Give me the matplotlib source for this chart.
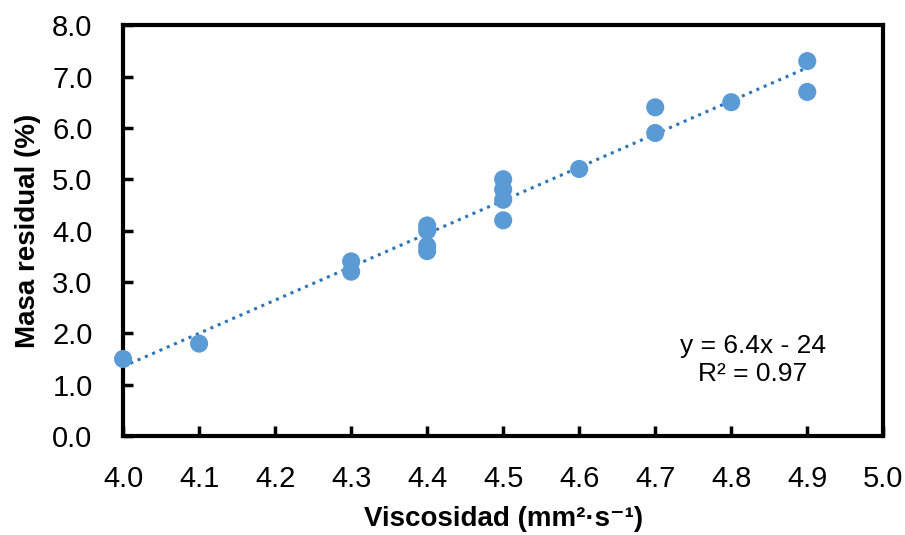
import numpy as np
import matplotlib.pyplot as plt

viscosidad = [4.0, 4.1, 4.3, 4.3, 4.4, 4.4, 4.4, 4.4, 4.5, 4.5, 4.5, 4.5,
              4.6, 4.7, 4.7, 4.8, 4.9, 4.9]
masa_residual = [1.5, 1.8, 3.4, 3.2, 4.1, 4.0, 3.7, 3.6, 5.0, 4.8, 4.6, 4.2,
                 5.2, 6.4, 5.9, 6.5, 7.3, 6.7]
x_ticks = [4.0, 4.1, 4.2, 4.3, 4.4, 4.5, 4.6, 4.7, 4.8, 4.9, 5.0]
y_ticks = [0, 1, 2, 3, 4, 5, 6, 7, 8]

plt.rcParams['font.family'] = ['Liberation Sans', 'DejaVu Sans']

fig = plt.figure(figsize=(9.05, 5.35), dpi=100)
ax = fig.add_axes([0.136, 0.185, 0.840, 0.768])

x = np.array(viscosidad)
y = np.array(masa_residual)
slope, intercept = np.polyfit(x, y, 1)
xf = np.array([x.min(), x.max()])
ax.plot(xf, slope * xf + intercept, linestyle=(0, (1, 1.6)), color='#2E75B6',
        linewidth=2.2, zorder=2)
ax.scatter(x, y, s=170, color='#5B9BD5', edgecolors='none', zorder=3, clip_on=False)

ax.set_xlim(4.0, 5.0)
ax.set_ylim(0, 8)
ax.set_xticks(x_ticks)
ax.set_yticks(y_ticks)
ax.set_xticklabels([f'{v:.1f}' for v in x_ticks])
ax.set_yticklabels([f'{v:.1f}' for v in y_ticks])
ax.tick_params(direction='in', length=7, width=2.5, labelsize=21)
ax.tick_params(axis='x', pad=21)
ax.tick_params(axis='y', pad=22)
for sp in ax.spines.values():
    sp.set_linewidth(3)

ax.set_xlabel('Viscosidad (mm²·s⁻¹)', fontsize=20, fontweight='bold', labelpad=9)
ax.set_ylabel('Masa residual (%)', fontsize=20, fontweight='bold', labelpad=8)

ax.text(4.828, 1.48, 'y = 6.4x - 24\nR² = 0.97', ha='center', va='center',
        fontsize=19, linespacing=1.25)

fig.savefig('out.png', dpi=100)
